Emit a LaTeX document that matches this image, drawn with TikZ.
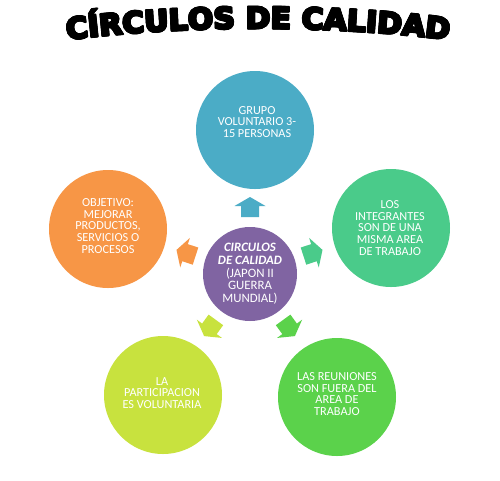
\documentclass[tikz,border=0pt]{standalone}
\usepackage{fontspec}
\setmainfont{Carlito}
\newfontfamily\titlefont{DejaVu Sans}[BoldFeatures={FakeBold=4,FakeStretch=1.02}]
\usetikzlibrary{decorations.text}
\definecolor{cblue}{HTML}{4BACC6}
\definecolor{corange}{HTML}{F79646}
\definecolor{cmint}{HTML}{4ACB8A}
\definecolor{clime}{HTML}{C8E23E}
\definecolor{cgreen}{HTML}{5BD24B}
\definecolor{cpurple}{HTML}{8064A2}
\tikzset{
  bubble/.style={circle, inner sep=0pt, minimum size=118*0.75pt, draw=none},
  hub/.style={circle, inner sep=0pt, minimum size=94*0.75pt, draw=none, fill=cpurple},
  btext/.style={text=white, align=center, font=\fontsize{9.2}{8.8}\selectfont, inner sep=0pt},
  htext/.style={text=white, align=center, font=\fontsize{9.6}{9.5}\selectfont, inner sep=0pt},
  pointer/.pic={\path[fill=#1] (-10,-9) -- (1,-9) -- (1,-15.5) -- (10,0) -- (1,15.5) -- (1,9) -- (-10,9) -- cycle;}
}
\begin{document}
\begin{tikzpicture}[x=0.75pt,y=-0.75pt]
\useasboundingbox[fill=white] (0,0) rectangle (500,480);
% title (overprinted for a heavier weight)
\foreach \dx/\dy in {-0.7/0,0.7/0,0/-0.7,0/0.7,-0.5/-0.5,0.5/0.5,-0.5/0.5,0.5/-0.5,0/0}{
\path[shift={(\dx,\dy)}, decorate, decoration={text along path, text align={align=center},
  text={|\titlefont\bfseries\fontsize{22}{24}\selectfont|CÍRCULOS DE CALIDAD}}]
  (36,44) .. controls (172,23) and (344,23) .. (480,44);
}
% outer circles
\node[bubble, fill=cblue] (top) at (255,130) {};
\node[bubble, fill=corange] (left) at (108,229) {};
\node[bubble, fill=cmint] (right) at (391,228) {};
\node[bubble, fill=clime] (bl) at (163,395) {};
\node[bubble, fill=cgreen] (br) at (337,397) {};
% arrows
\pic[rotate=90] (a1) at (250,207) {pointer=cblue};
\pic[rotate=162] (a2) at (186,253) {pointer=corange};
\pic[rotate=18] (a3) at (313,253) {pointer=cmint};
\pic[rotate=234] (a4) at (210,328) {pointer=clime};
\pic[rotate=306] (a5) at (289,328) {pointer=cgreen};
% hub
\node[hub] (hub) at (250,274) {};
\node[htext] (hubtext) at (250,274) {\textbf{\textit{CIRCULOS}}\\\textbf{\textit{DE CALIDAD}}\\(JAPON II\\GUERRA\\MUNDIAL)};
% texts
\node[btext] (toptext) at (257,122) {GRUPO\\VOLUNTARIO 3-\\15 PERSONAS};
\node[btext] (lefttext) at (108,226) {OBJETIVO:\\MEJORAR\\PRODUCTOS,\\SERVICIOS O\\PROCESOS};
\node[btext] (righttext) at (390,228) {LOS\\INTEGRANTES\\SON DE UNA\\MISMA AREA\\DE TRABAJO};
\node[btext] (bltext) at (162,393) {LA\\PARTICIPACION\\ES VOLUNTARIA};
\node[btext] (brtext) at (337,394) {LAS REUNIONES\\SON FUERA DEL\\AREA DE\\TRABAJO};
\end{tikzpicture}
\end{document}
